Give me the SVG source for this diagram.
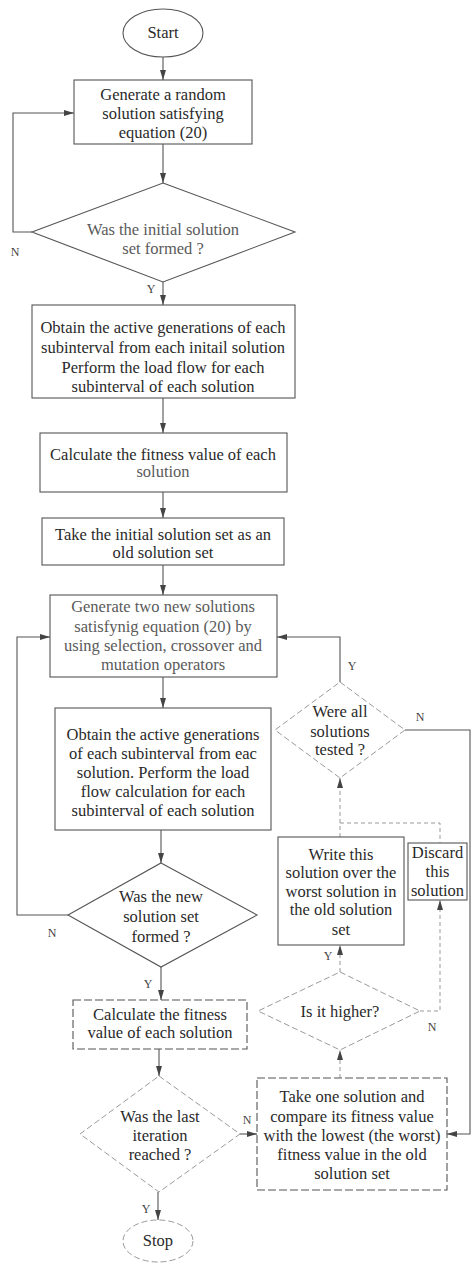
<svg xmlns="http://www.w3.org/2000/svg" width="472" height="1264" viewBox="0 0 472 1264">
<style>
.bg{fill:#ffffff}
.box{fill:#ffffff;stroke:#555;stroke-width:1.1}
.faint{fill:#ffffff;stroke:#9a9a9a;stroke-width:1;stroke-dasharray:6,3}
.t{font-family:"Liberation Serif","Times New Roman",serif;font-size:16.5px;fill:#2a2a2a;text-anchor:middle}
.tg{font-family:"Liberation Serif","Times New Roman",serif;font-size:16.5px;fill:#5a5a5a;text-anchor:middle}
.lbl{font-family:"Liberation Serif","Times New Roman",serif;font-size:12px;fill:#444;text-anchor:middle}
.c{fill:none;stroke:#555;stroke-width:1.1}
.cf{fill:none;stroke:#999;stroke-width:1;stroke-dasharray:4,3}
</style>
<defs>
<marker id="ah" viewBox="0 0 10 6" refX="10" refY="3" markerWidth="10" markerHeight="6" markerUnits="userSpaceOnUse" orient="auto">
<path d="M0,0 L10,3 L0,6 z" fill="#444"/>
</marker>
</defs>
<rect class="bg" x="0" y="0" width="472" height="1264"/>

<g id="connectors">
<path class="c" d="M163,57 V80" marker-end="url(#ah)"/>
<path class="c" d="M163,144 V183" marker-end="url(#ah)"/>
<path class="c" d="M32,232 H13 V113 H74" marker-end="url(#ah)"/>
<path class="c" d="M163,282 V305" marker-end="url(#ah)"/>
<path class="c" d="M163,398 V433" marker-end="url(#ah)"/>
<path class="c" d="M163,492 V518" marker-end="url(#ah)"/>
<path class="c" d="M163,565 V595" marker-end="url(#ah)"/>
<path class="c" d="M163,677 V708" marker-end="url(#ah)"/>
<path class="c" d="M161,830 V863" marker-end="url(#ah)"/>
<path class="c" d="M68,915 H17 V637 H50" marker-end="url(#ah)"/>
<path class="c" d="M161,967 V1000" marker-end="url(#ah)"/>
<path class="c" d="M159,1049 V1076" marker-end="url(#ah)"/>
<path class="c" d="M240,1134 H257" marker-end="url(#ah)"/>
<path class="c" d="M158,1192 V1220" marker-end="url(#ah)"/>
<path class="c" d="M340,682 V637 H277" marker-end="url(#ah)"/>
<path class="c" d="M405,730 H470 V1134 H447" marker-end="url(#ah)"/>
<path class="cf" d="M340,837 V823 H440 V843"/>
<path class="cf" d="M340,823 V778" marker-end="url(#ah)"/>
<path class="cf" d="M340,972 V945" marker-end="url(#ah)"/>
<path class="cf" d="M420,1011 H440 V900" marker-end="url(#ah)"/>
<path class="cf" d="M340,1078 V1050" marker-end="url(#ah)"/>
<text class="lbl" x="15" y="256">N</text>
<text class="lbl" x="151" y="293">Y</text>
<text class="lbl" x="52" y="937">N</text>
<text class="lbl" x="148" y="988">Y</text>
<text class="lbl" x="247" y="1124">N</text>
<text class="lbl" x="146" y="1213">Y</text>
<text class="lbl" x="352" y="670">Y</text>
<text class="lbl" x="420" y="721">N</text>
<text class="lbl" x="328" y="960">Y</text>
<text class="lbl" x="432" y="1031">N</text>
</g>

<g id="start">
<ellipse class="box" cx="163" cy="33" rx="40" ry="24"/>
<text class="t" x="163" y="38">Start</text>
</g>

<g id="gen-random">
<rect class="box" x="74" y="80" width="178" height="64"/>
<text class="t" x="163" y="100">Generate a random</text>
<text class="t" x="163" y="119">solution satisfying</text>
<text class="t" x="163" y="138">equation (20)</text>
</g>

<g id="initial-formed">
<polygon class="box" points="163,183 295,232 163,282 32,232"/>
<text class="tg" x="163" y="235">Was the initial solution</text>
<text class="tg" x="163" y="254">set formed ?</text>
</g>

<g id="obtain-initial">
<rect class="box" x="32" y="305" width="263" height="93"/>
<text class="t" x="163" y="333">Obtain the active generations of each</text>
<text class="t" x="163" y="353">subinterval from each initail solution</text>
<text class="t" x="163" y="373">Perform the load flow for each</text>
<text class="t" x="163" y="392">subinterval of each solution</text>
</g>

<g id="calc-fitness-1">
<rect class="box" x="40" y="433" width="247" height="59"/>
<text class="t" x="163" y="460">Calculate the fitness value of each</text>
<text class="tg" x="163" y="477">solution</text>
</g>

<g id="take-initial">
<rect class="box" x="42" y="518" width="242" height="47"/>
<text class="t" x="163" y="540">Take the initial solution set as an</text>
<text class="t" x="163" y="558">old solution set</text>
</g>

<g id="gen-two">
<rect class="box" x="50" y="595" width="227" height="82"/>
<text class="tg" x="163" y="612">Generate two new solutions</text>
<text class="tg" x="163" y="632">satisfynig equation (20) by</text>
<text class="tg" x="163" y="651">using selection, crossover and</text>
<text class="tg" x="163" y="670">mutation operators</text>
</g>

<g id="obtain-new">
<rect class="box" x="55" y="708" width="216" height="122"/>
<text class="t" x="163" y="740">Obtain the active generations</text>
<text class="t" x="163" y="759">of each subinterval from eac</text>
<text class="t" x="163" y="778">solution. Perform the load</text>
<text class="t" x="163" y="797">flow calculation for each</text>
<text class="t" x="163" y="816">subinterval of each solution</text>
</g>

<g id="new-formed">
<polygon class="box" points="161,863 257,915 161,967 68,915"/>
<text class="t" x="161" y="902">Was the new</text>
<text class="t" x="161" y="922">solution set</text>
<text class="t" x="161" y="942">formed ?</text>
</g>

<g id="calc-fitness-2">
<rect class="box" x="73" y="1000" width="174" height="49" stroke-dasharray="8,3"/>
<text class="t" x="160" y="1020">Calculate the fitness</text>
<text class="t" x="160" y="1038">value of each solution</text>
</g>

<g id="last-iteration">
<polygon class="faint" points="159,1076 240,1134 159,1192 80,1134"/>
<text class="t" x="160" y="1122">Was the last</text>
<text class="t" x="160" y="1141">iteration</text>
<text class="t" x="160" y="1160">reached ?</text>
</g>

<g id="stop">
<ellipse class="faint" cx="158" cy="1241" rx="35" ry="21"/>
<text class="t" x="158" y="1246">Stop</text>
</g>

<g id="take-one">
<rect class="box" x="257" y="1078" width="190" height="112" stroke-dasharray="8,3"/>
<text class="t" x="352" y="1102">Take one solution and</text>
<text class="t" x="352" y="1122">compare its fitness value</text>
<text class="t" x="352" y="1141">with the lowest (the worst)</text>
<text class="t" x="352" y="1160">fitness value in the old</text>
<text class="t" x="352" y="1179">solution set</text>
</g>

<g id="all-tested">
<polygon class="faint" points="340,682 405,730 340,778 275,730"/>
<text class="t" x="340" y="717">Were all</text>
<text class="t" x="340" y="737">solutions</text>
<text class="t" x="340" y="755">tested ?</text>
</g>

<g id="write-over">
<rect class="box" x="278" y="837" width="126" height="108"/>
<text class="t" x="341" y="860">Write this</text>
<text class="t" x="341" y="878">solution over the</text>
<text class="t" x="341" y="897">worst solution in</text>
<text class="t" x="341" y="915">the old solution</text>
<text class="t" x="341" y="935">set</text>
</g>

<g id="discard">
<rect class="box" x="408" y="843" width="59" height="57"/>
<text class="t" x="437.5" y="858">Discard</text>
<text class="t" x="437.5" y="877">this</text>
<text class="t" x="437.5" y="896">solution</text>
</g>

<g id="is-higher">
<polygon class="faint" points="340,972 420,1011 340,1050 258,1011"/>
<text class="t" x="340" y="1017">Is it higher?</text>
</g>
</svg>
